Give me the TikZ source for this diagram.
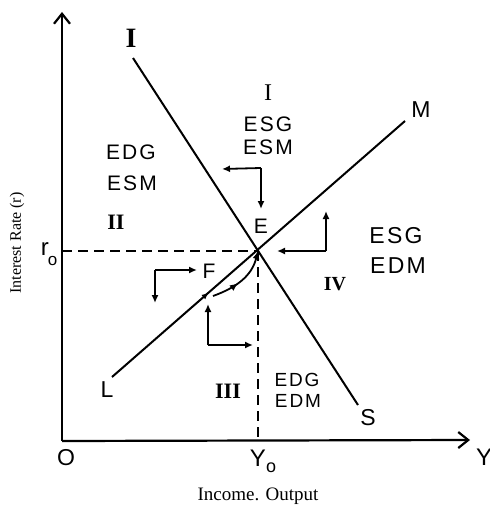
\documentclass[tikz,border=0pt]{standalone}
\usepackage{fontspec}
\setmainfont{Liberation Serif}
\newfontfamily\hand[LetterSpace=10]{Liberation Sans}
\usetikzlibrary{arrows.meta,decorations.markings}
\begin{document}
\begin{tikzpicture}[x=0.5pt,y=-0.5pt,
  ln/.style={line width=1pt},
  ax/.style={line width=1.1pt,-{Straight Barb[length=5pt,width=8pt]}},
  dsh/.style={line width=0.9pt,dash pattern=on 5pt off 3pt},
  br/.style={line width=0.9pt,-{Latex[length=4pt,width=3.5pt]}},
  lab/.style={font=\hand\fontsize{10.5}{11}\selectfont,inner sep=0pt},
  biglab/.style={font=\hand\fontsize{11.5}{12}\selectfont,inner sep=0pt},
  smlab/.style={font=\hand\fontsize{9.5}{10}\selectfont,inner sep=0pt},
  rom/.style={font=\fontsize{11}{12}\selectfont\bfseries,inner sep=0pt},
  captxt/.style={font=\fontsize{9.5}{10}\selectfont,inner sep=0pt}]
\useasboundingbox (0,0) rectangle (490,508);
% axes
\coordinate (O) at (62,441);
\coordinate (Ytop) at (62,12);
\coordinate (Xend) at (470,440);
\draw[ax] (O) -- (Ytop);
\draw[ax] (O) -- (Xend);
% equilibrium
\coordinate (E) at (258,251);
\coordinate (r0) at (62,251);
\coordinate (Y0) at (258,441);
\draw[dsh] (r0) -- (E);
\draw[dsh] (E) -- (Y0);
% IS and LM
\coordinate (Iend) at (133,58);
\coordinate (Send) at (358,405);
\coordinate (Lend) at (112,377);
\coordinate (Mend) at (405,121);
\draw[ln] (Iend) -- (Send);
\draw[ln,decoration={markings,mark=at position 0.33 with {\arrow{Latex[length=3.5pt,width=3pt]}}},postaction={decorate}] (Lend) -- (Mend);
% curve from near F to E
\coordinate (cs) at (213,296);
\draw[line width=0.9pt,decoration={markings,mark=at position 0.42 with {\arrow{Latex[length=4pt,width=3.5pt]}}},postaction={decorate},-{Latex[length=4pt,width=3.5pt]}]
  (cs) .. controls (238,287) and (252,275) .. (E);
% bracket arrows
\coordinate (c1) at (261,168); \coordinate (c1a) at (222,169); \coordinate (c1b) at (261,209);
\draw[br] (c1) -- (c1a); \draw[br] (c1) -- (c1b);
\coordinate (c2) at (326,251); \coordinate (c2a) at (326,211); \coordinate (c2b) at (277,251);
\draw[br] (c2) -- (c2a); \draw[br] (c2) -- (c2b);
\coordinate (c3) at (155,270); \coordinate (c3a) at (197,270); \coordinate (c3b) at (155,303);
\draw[br] (c3) -- (c3a); \draw[br] (c3) -- (c3b);
\coordinate (c4) at (208,345); \coordinate (c4a) at (208,304); \coordinate (c4b) at (253,345);
\draw[br] (c4) -- (c4a); \draw[br] (c4) -- (c4b);
% curve labels
\node[font=\fontsize{14}{14}\selectfont\bfseries,inner sep=0pt] (lI) at (131,38) {I};
\node[biglab] (lS) at (368,418) {S};
\node[biglab] (lL) at (107,390) {L};
\node[biglab] (lM) at (421,110) {M};
\node[lab] (lE) at (261,226) {E};
\node[lab] (lF) at (209,271) {F};
\node[biglab] (lO) at (66,458) {O};
\node[font=\hand\fontsize{12}{12}\selectfont,inner sep=0pt] (lY) at (484,457) {Y};
\node[inner sep=0pt] (lY0) at (263,461) {\hand\fontsize{12}{12}\selectfont Y\raisebox{-3pt}{\fontsize{9}{9}\selectfont o}};
\node[inner sep=0pt] (lr0) at (49,254) {\hand\fontsize{12}{12}\selectfont r\hspace{-0.5pt}\raisebox{-5pt}{\fontsize{8.5}{8.5}\selectfont o}};
\node[captxt] (xl) at (258,496) {Income. Output};
\node[captxt,rotate=90,font=\fontsize{8}{8}\selectfont] (yl) at (17,243) {Interest Rate (r)};
% region labels
\node[rom,font=\fontsize{12}{12}\selectfont] (R1) at (268,93) {I};
\node[lab] (R1a) at (268,124) {ESG};
\node[lab] (R1b) at (268,147) {ESM};
\node[lab] (R2a) at (131,152) {EDG};
\node[lab] (R2b) at (132,183) {ESM};
\node[rom] (R2) at (116,222) {II};
\node[biglab] (R4a) at (396,236) {ESG};
\node[biglab] (R4b) at (398,266) {EDM};
\node[rom,font=\fontsize{10}{10}\selectfont\bfseries] (R4) at (335,284) {IV};
\node[rom] (R3) at (228,391) {III};
\node[smlab] (R3a) at (297,380) {EDG};
\node[smlab] (R3b) at (298,401) {EDM};
\end{tikzpicture}
\end{document}
